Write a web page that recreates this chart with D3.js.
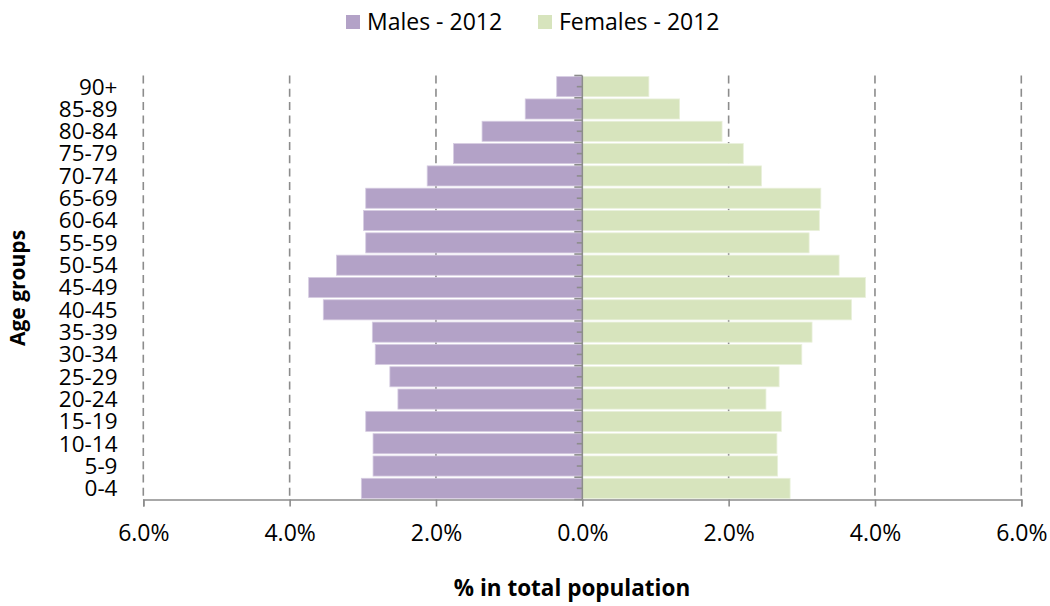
<!DOCTYPE html>
<html>
<head>
<meta charset="utf-8">
<script src="https://cdn.jsdelivr.net/npm/d3@7"></script>
<style>
  html, body { margin: 0; padding: 0; background: #ffffff; }
  svg { display: block; font-family: "Open Sans", "Noto Sans", sans-serif; }
</style>
</head>
<body>
<svg id="chart" width="1050" height="606"></svg>
<script>
// Age groups, listed from oldest (top) to youngest (bottom)
const ageGroups = ["90+", "85-89", "80-84", "75-79", "70-74", "65-69", "60-64", "55-59",
  "50-54", "45-49", "40-45", "35-39", "30-34", "25-29", "20-24", "15-19", "10-14", "5-9", "0-4"];

// Share of total population (%) per age group, 2012
const males2012 = [0.35, 0.78, 1.37, 1.76, 2.12, 2.96, 2.99, 2.96, 3.36, 3.74, 3.54, 2.87,
  2.83, 2.63, 2.52, 2.96, 2.86, 2.86, 3.02];
const females2012 = [0.91, 1.33, 1.91, 2.20, 2.45, 3.26, 3.24, 3.10, 3.51, 3.87, 3.68, 3.14,
  3.00, 2.69, 2.51, 2.72, 2.66, 2.67, 2.84];

const xTicks = [-6, -4, -2, 0, 2, 4, 6];
const seriesNames = ["Males - 2012", "Females - 2012"];
const seriesColors = ["#b3a2c7", "#d7e4bd"];
const seriesStrokes = ["#d6cce2", "#e9f0db"];

const svg = d3.select("#chart");
const plotLeft = 143.3, plotRight = 1021.3, plotTop = 75.5, plotBottom = 499.5;

const x = d3.scaleLinear().domain([-6, 6]).range([plotLeft, plotRight]);
const y = d3.scaleBand().domain(ageGroups).range([plotTop, plotBottom]).paddingInner(0.1).paddingOuter(0.05);
const step = (plotBottom - plotTop) / ageGroups.length;
const axisColor = "#8c8c8c";

// Dashed vertical gridlines
svg.append("g").selectAll("line")
  .data(xTicks.filter(d => d !== 0))
  .join("line")
  .attr("x1", d => x(d)).attr("x2", d => x(d))
  .attr("y1", plotTop).attr("y2", plotBottom)
  .attr("stroke", axisColor).attr("stroke-width", 1.6)
  .attr("stroke-dasharray", "8,5.3");

// Bars
const rows = ageGroups.map((g, i) => ({ g, m: males2012[i], f: females2012[i] }));
const bars = svg.append("g");
bars.selectAll("rect.male").data(rows).join("rect")
  .attr("class", "male")
  .attr("x", d => x(-d.m)).attr("width", d => x(0) - x(-d.m))
  .attr("y", d => y(d.g)).attr("height", y.bandwidth())
  .attr("fill", seriesColors[0]).attr("stroke", seriesStrokes[0]).attr("stroke-width", 0.8);
bars.selectAll("rect.female").data(rows).join("rect")
  .attr("class", "female")
  .attr("x", x(0)).attr("width", d => x(d.f) - x(0))
  .attr("y", d => y(d.g)).attr("height", y.bandwidth())
  .attr("fill", seriesColors[1]).attr("stroke", seriesStrokes[1]).attr("stroke-width", 0.8);

// Category axis at zero: line with boundary and mid-band ticks
const cat = svg.append("g");
cat.append("line")
  .attr("x1", x(0)).attr("x2", x(0)).attr("y1", plotTop).attr("y2", plotBottom)
  .attr("stroke", axisColor).attr("stroke-width", 1.6);
cat.selectAll("line.major").data(d3.range(ageGroups.length + 1)).join("line")
  .attr("class", "major")
  .attr("x1", x(0) - 8).attr("x2", x(0))
  .attr("y1", i => plotTop + i * step).attr("y2", i => plotTop + i * step)
  .attr("stroke", axisColor).attr("stroke-width", 1.6);
cat.selectAll("line.minor").data(ageGroups).join("line")
  .attr("class", "minor")
  .attr("x1", x(0) - 5.5).attr("x2", x(0))
  .attr("y1", d => y(d) + y.bandwidth() / 2).attr("y2", d => y(d) + y.bandwidth() / 2)
  .attr("stroke", axisColor).attr("stroke-width", 1.6);

// Age group labels
svg.append("g").selectAll("text").data(ageGroups).join("text")
  .attr("x", 117.5)
  .attr("y", d => y(d) + y.bandwidth() / 2)
  .attr("dy", "0.35em")
  .attr("text-anchor", "end")
  .attr("font-size", 22.5)
  .attr("fill", "#000")
  .text(d => d);

// Value axis at the bottom
const xAxis = d3.axisBottom(x)
  .tickValues(xTicks)
  .tickSize(7)
  .tickPadding(18)
  .tickFormat(d => Math.abs(d).toFixed(1) + "%");
const gx = svg.append("g").attr("transform", `translate(0,${plotBottom})`).call(xAxis);
gx.select(".domain").attr("stroke", axisColor).attr("stroke-width", 1.6);
gx.selectAll(".tick line").attr("stroke", axisColor).attr("stroke-width", 1.6);
gx.selectAll(".tick text").attr("font-size", 23).attr("fill", "#000")
  .attr("font-family", "\"Open Sans\", sans-serif");

// Axis titles
svg.append("text")
  .attr("x", 572).attr("y", 596)
  .attr("text-anchor", "middle")
  .attr("font-size", 22.5).attr("font-weight", "bold")
  .text("% in total population");
svg.append("text")
  .attr("transform", "translate(25,288) rotate(-90)")
  .attr("text-anchor", "middle")
  .attr("font-size", 21).attr("font-weight", "bold")
  .text("Age groups");

// Legend
const legendX = [346, 538];
const legend = svg.append("g");
seriesNames.forEach((name, i) => {
  legend.append("rect")
    .attr("x", legendX[i]).attr("y", 15).attr("width", 14).attr("height", 14)
    .attr("fill", seriesColors[i]);
  legend.append("text")
    .attr("x", legendX[i] + 21).attr("y", 22).attr("dy", "0.35em")
    .attr("font-size", 23).attr("fill", "#000")
    .text(name);
});
</script>
</body>
</html>
